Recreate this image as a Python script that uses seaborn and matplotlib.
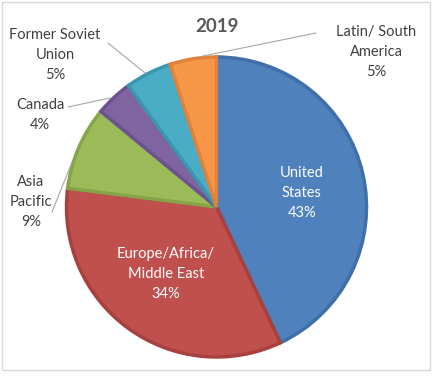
import matplotlib
matplotlib.use("Agg")
import matplotlib.pyplot as plt
import matplotlib.patches as mpatches
import seaborn as sns

regions = ["United States", "Europe/Africa/\nMiddle East", "Asia\nPacific", "Canada",
           "Former Soviet\nUnion", "Latin/ South\nAmerica"]
shares = [43, 34, 9, 4, 5, 5]
colors = ["#4F81BD", "#C0504D", "#9BBB59", "#8064A2", "#4BACC6", "#F79646"]
edges = ["#3F6FA8", "#A8403D", "#86A548", "#6C5290", "#3A97B0", "#E0823A"]

sns.set_style("white")
plt.rcParams["font.family"] = ["Lato", "DejaVu Sans"]

W, H = 437, 376
cx, cy, R = 216.5, 207, 150


def d(px, py):
    return (px - cx) / R, (cy - py) / R


fig = plt.figure(figsize=(W / 100, H / 100), dpi=100)
ax = fig.add_axes([0, 0, 1, 1])

wedges, _ = ax.pie(shares, colors=colors, startangle=90, counterclock=False,
                   radius=1, center=(0, 0), frame=True,
                   wedgeprops=dict(linewidth=2.5))
for w, e in zip(wedges, edges):
    w.set_edgecolor(e)
ax.set_xlim(-cx / R, (W - cx) / R)
ax.set_ylim(-(H - cy) / R, cy / R)
ax.set_aspect("auto")
ax.axis("off")

fs = 10.5
ls = 1.55
ax.text(*d(302, 193), "United\nStates\n43%", color="white", fontsize=fs,
        ha="center", va="center", linespacing=ls)
ax.text(*d(166, 274), "Europe/Africa/\nMiddle East\n34%", color="white", fontsize=fs,
        ha="center", va="center", linespacing=ls)
ax.text(*d(376, 52), "Latin/ South\nAmerica\n5%", color="#404040", fontsize=fs,
        ha="center", va="center", linespacing=ls)
ax.text(*d(55, 55), "Former Soviet\nUnion\n5%", color="#404040", fontsize=fs,
        ha="center", va="center", linespacing=ls)
ax.text(*d(40, 115), "Canada\n4%", color="#404040", fontsize=fs,
        ha="center", va="center", linespacing=ls)
ax.text(*d(31, 202), "Asia\nPacific\n9%", color="#404040", fontsize=fs,
        ha="center", va="center", linespacing=ls)
ax.text(*d(217, 26), "2019", color="#595959", fontsize=13.5, fontweight="bold",
        ha="center", va="center")

leaders = [((203, 56), (316, 33)), ((108, 43), (145, 73)),
           ((68, 107), (110, 98)), ((52, 212), (72, 162))]
for a, b in leaders:
    ax.plot([d(*a)[0], d(*b)[0]], [d(*a)[1], d(*b)[1]], color="#A6A6A6", lw=0.8)

fig.patches.append(mpatches.Rectangle((2 / W, 1 - 370 / H), 428 / W, 368 / H,
                                      transform=fig.transFigure, fill=False,
                                      edgecolor="#D9D9D9", lw=1))
fig.savefig("out.png", dpi=100)
